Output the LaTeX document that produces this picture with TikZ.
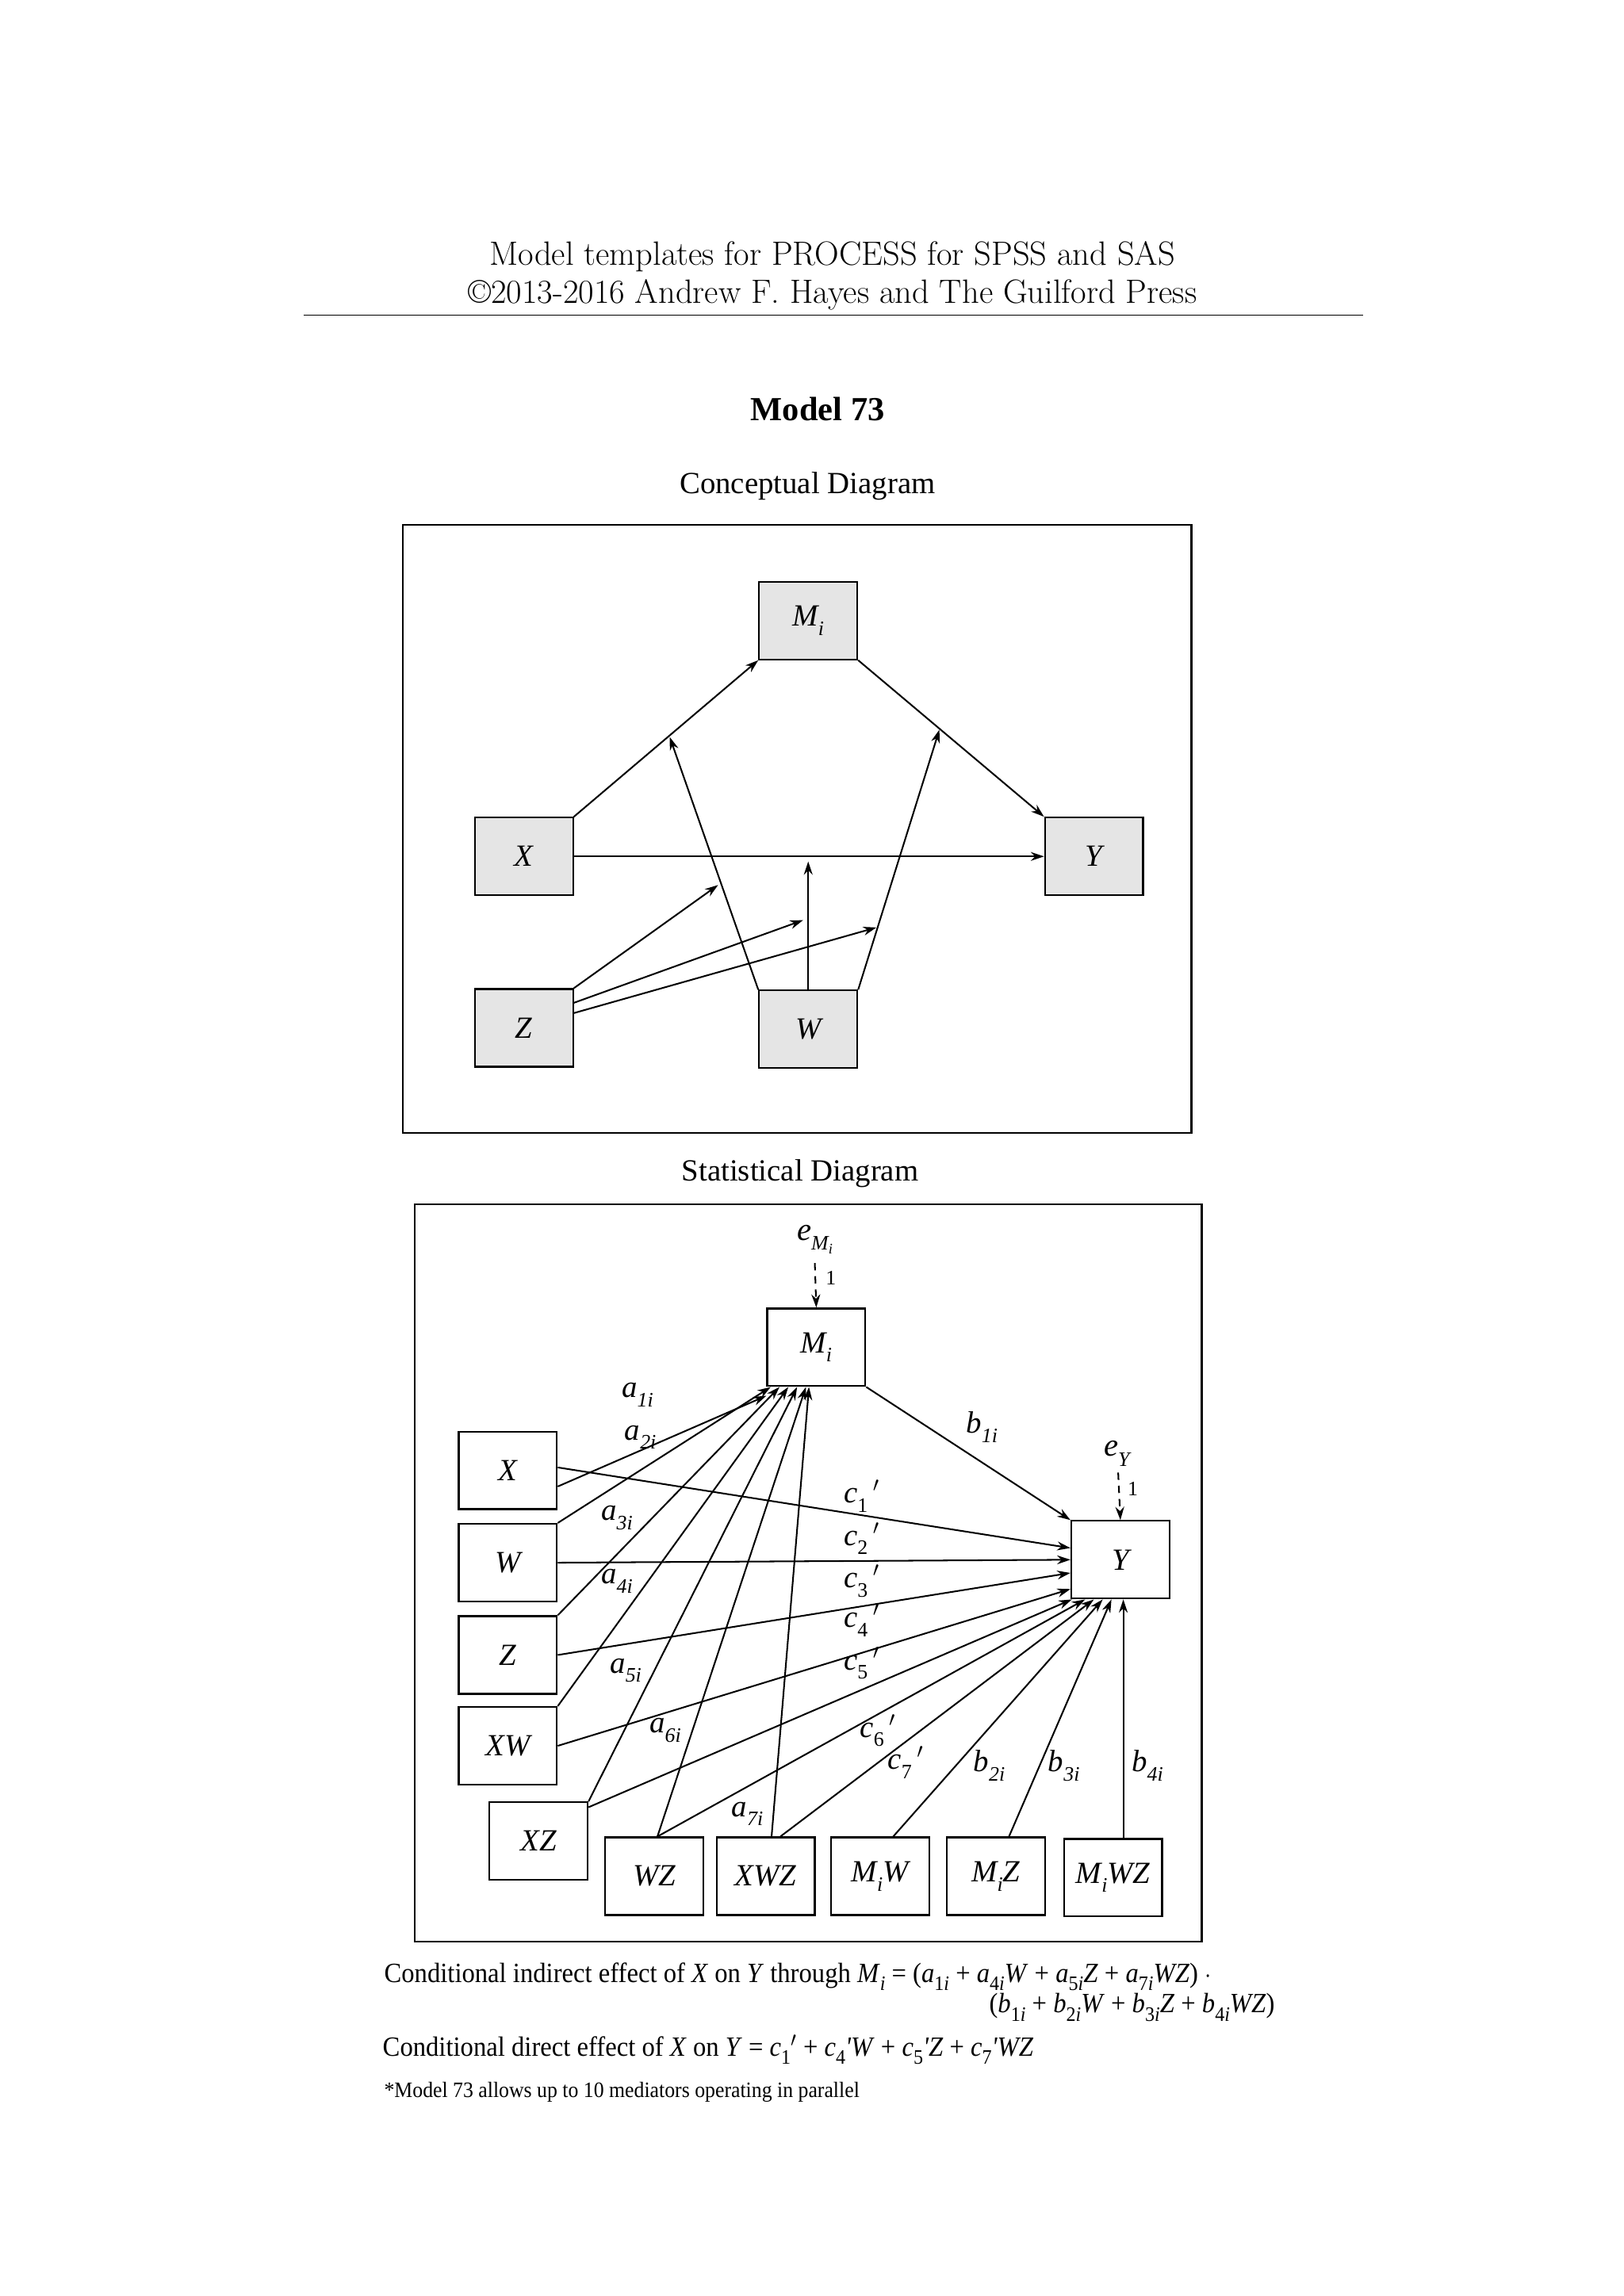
\documentclass[tikz,border=0pt]{standalone}
\usepackage{fontspec}
\newfontfamily\tms{Liberation Serif}
\usetikzlibrary{arrows.meta}
\newcommand\sbx[1]{\raisebox{-0.3em}{\fontsize{14}{14}\selectfont #1}}
\newcommand\vi[1]{\textit{#1}}
\begin{document}
\begin{tikzpicture}[x=1pt,y=-1pt,
 box/.style={draw,line width=1.2pt,minimum width=67pt,minimum height=53pt,inner sep=0pt,font=\tms\fontsize{21}{21}\selectfont\itshape},
 gbox/.style={box,fill=gray!20},
 arr/.style={-{Stealth[length=9pt,width=6pt]},line width=1.1pt},
 lab/.style={font=\tms\fontsize{19}{19}\selectfont,inner sep=0pt},
 frame/.style={draw,line width=1.2pt}]
\useasboundingbox (0,0) rectangle (1108,1567);
% header
\node (t1) at (568,175) {\fontsize{23}{27}\selectfont Model templates for PROCESS for SPSS and SAS};
\node (t2) at (568,201) {\fontsize{23}{27}\selectfont \textcopyright2013-2016 Andrew F. Hayes and The Guilford Press};
\draw[line width=0.8pt] (207,215) -- (930,215);
\node (m73) at (558,279) {\tms\fontsize{23}{23}\selectfont\bfseries Model 73};
\node (cd) at (551,332) {\tms\fontsize{21}{21}\selectfont Conceptual Diagram};
\draw[frame] (275,358) rectangle (813,773);
\node[gbox] (cM) at (551.5,423.5) {\vi{M}\sbx{\vi{i}}};
\node[gbox] (cX) at (357.5,584.5) {X};
\node[gbox] (cY) at (746.5,584.5) {Y};
\node[gbox] (cZ) at (357.5,701.5) {Z};
\node[gbox] (cW) at (551.5,702.5) {W};
\draw[arr] (cX.north east) -- (cM.south west);
\draw[arr] (cM.south east) -- (cY.north west);
\draw[arr] (cX.east) -- (cY.west);
\coordinate (p1) at (457,503);
\coordinate (p2) at (641,498);
\coordinate (p3) at (551.5,588);
\coordinate (q1) at (490,604);
\coordinate (q2) at (548,628);
\coordinate (q3) at (598,633);
\draw[arr] (cW.north west) -- (p1);
\draw[arr] (cW.north east) -- (p2);
\draw[arr] (cW.north) -- (p3);
\draw[arr] (cZ.north east) -- (q1);
\draw[arr] ([yshift=-10pt]cZ.north east) -- (q2);
\draw[arr] ([yshift=-17pt]cZ.north east) -- (q3);
% statistical
\node (sd) at (546,801) {\tms\fontsize{21}{21}\selectfont Statistical Diagram};
\draw[frame] (283,822) rectangle (820,1325);
\node[box] (M) at (557,919.5) {\vi{M}\sbx{\vi{i}}};
\node[box] (Y) at (764.5,1064.5) {Y};
\node[box] (X) at (346.5,1003.5) {X};
\node[box] (W) at (346.5,1066.5) {W};
\node[box] (Z) at (346.5,1129.5) {Z};
\node[box] (XW) at (346.5,1191.5) {XW};
\node[box] (XZ) at (367.5,1256.5) {XZ};
\node[box] (WZ) at (446.5,1280.5) {WZ};
\node[box] (XWZ) at (522.5,1280.5) {XWZ};
\node[box] (MW) at (600.5,1280.5) {M\sbx{i}W};
\node[box] (MZ) at (679.5,1280.5) {M\sbx{i}Z};
\node[box] (MWZ) at (759.5,1281.5) {M\sbx{i}WZ};
\node[lab,font=\tms\fontsize{22}{22}\selectfont\itshape] (eM) at (556,846) {e\sbx{M\raisebox{-0.2em}{\fontsize{10}{10}\selectfont i}}};
\coordinate (eMs) at (556,862);
\draw[arr,dashed,dash pattern=on 5pt off 4pt] (eMs) -- (M.north);
\node[lab,font=\tms\fontsize{14}{14}\selectfont] (one1) at (567,872) {1};
\node[lab,font=\tms\fontsize{22}{22}\selectfont\itshape] (eY) at (762,992) {e\sbx{Y}};
\coordinate (eYs) at (763,1005);
\draw[arr,dashed,dash pattern=on 5pt off 4pt] (eYs) -- (Y.north);
\node[lab,font=\tms\fontsize{14}{14}\selectfont] (one2) at (773,1016) {1};
% a paths
\draw[arr] ([yshift=-11pt]X.east) -- ([yshift=-6pt]M.south west);
\draw[arr] (W.north east) -- ([xshift=3pt]M.south west);
\draw[arr] (Z.north east) -- ([xshift=9pt]M.south west);
\draw[arr] (XW.north east) -- ([xshift=15pt]M.south west);
\draw[arr] (XZ.north east) -- ([xshift=21pt]M.south west);
\draw[arr] ([xshift=-32pt]WZ.north east) -- ([xshift=27pt]M.south west);
\draw[arr] ([xshift=4pt]XWZ.north) -- ([xshift=-5pt]M.south);
% b1
\draw[arr] (M.south east) -- (Y.north west);
% c paths
\draw[arr] ([yshift=2pt]X.east) -- ([yshift=8pt]Y.west);
\draw[arr] (W.east) -- ([yshift=0pt]Y.west);
\draw[arr] (Z.east) -- ([yshift=-9pt]Y.west);
\draw[arr] (XW.east) -- ([yshift=-20pt]Y.west);
\draw[arr] ([yshift=-4pt]XZ.north east) -- ([xshift=1pt]Y.south west);
\draw[arr] ([xshift=-32pt]WZ.north east) -- ([xshift=10pt]Y.south west);
\draw[arr] ([xshift=10pt]XWZ.north) -- ([xshift=16pt]Y.south west);
\draw[arr] ([xshift=9pt]MW.north) -- ([xshift=22pt]Y.south west);
\draw[arr] ([xshift=9pt]MZ.north) -- ([xshift=28pt]Y.south west);
\draw[arr] ([xshift=7pt]MWZ.north) -- ([xshift=2pt]Y.south);
% labels
\tikzset{pl/.style={lab,font=\tms\fontsize{21}{21}\selectfont\itshape}}
\node[pl] (la1) at (435,952) {a\sbx{1i}};
\node[pl] (la2) at (437,981) {a\sbx{2i}};
\node[pl] (la3) at (421,1036) {a\sbx{3i}};
\node[pl] (la4) at (421,1079) {a\sbx{4i}};
\node[pl] (la5) at (427,1140) {a\sbx{5i}};
\node[pl] (la6) at (454,1181) {a\sbx{6i}};
\node[pl] (la7) at (510,1238) {a\sbx{7i}};
\node[pl] (lb1) at (670,974) {b\sbx{1i}};
\node[pl] (lc1) at (588,1021) {c\sbx{\upshape 1}\,$'$};
\node[pl] (lc2) at (588,1050) {c\sbx{\upshape 2}\,$'$};
\node[pl] (lc3) at (588,1079) {c\sbx{\upshape 3}\,$'$};
\node[pl] (lc4) at (588,1106) {c\sbx{\upshape 4}\,$'$};
\node[pl] (lc5) at (588,1135) {c\sbx{\upshape 5}\,$'$};
\node[pl] (lc6) at (599,1181) {c\sbx{\upshape 6}\,$'$};
\node[pl] (lc7) at (618,1203) {c\sbx{\upshape 7}\,$'$};
\node[pl] (lb2) at (675,1205) {b\sbx{2i}};
\node[pl] (lb3) at (726,1205) {b\sbx{3i}};
\node[pl] (lb4) at (783,1205) {b\sbx{4i}};
% bottom text
\tikzset{bt/.style={anchor=west,inner sep=0pt,font=\tms\fontsize{19}{19}\selectfont}}
\node[bt] (f1) at (262,1349) {\scalebox{0.93}[1]{Conditional indirect effect of \vi{X} on \vi{Y} through \vi{M}\sbx{\vi{i}} = (\vi{a}\sbx{1\vi{i}} + \vi{a}\sbx{4\vi{i}}\vi{W} + \vi{a}\sbx{5\vi{i}}\vi{Z} + \vi{a}\sbx{7\vi{i}}\vi{WZ}) $\cdot$}};
\node[bt,anchor=east] (f2) at (870,1370) {\scalebox{0.93}[1]{(\vi{b}\sbx{1\vi{i}} + \vi{b}\sbx{2\vi{i}}\vi{W} + \vi{b}\sbx{3\vi{i}}\vi{Z} + \vi{b}\sbx{4\vi{i}}\vi{WZ})}};
\node[bt] (f3) at (261,1399) {\scalebox{0.93}[1]{Conditional direct effect of \vi{X} on \vi{Y} = \vi{c}\sbx{1}$'$ + \vi{c}\sbx{4}\vi{'W} + \vi{c}\sbx{5}\vi{'Z} + \vi{c}\sbx{7}\vi{'WZ}}};
\node[bt,font=\tms\fontsize{15}{15}\selectfont] (f4) at (262,1428) {\scalebox{0.93}[1]{*Model 73 allows up to 10 mediators operating in parallel}};
\end{tikzpicture}
\end{document}
